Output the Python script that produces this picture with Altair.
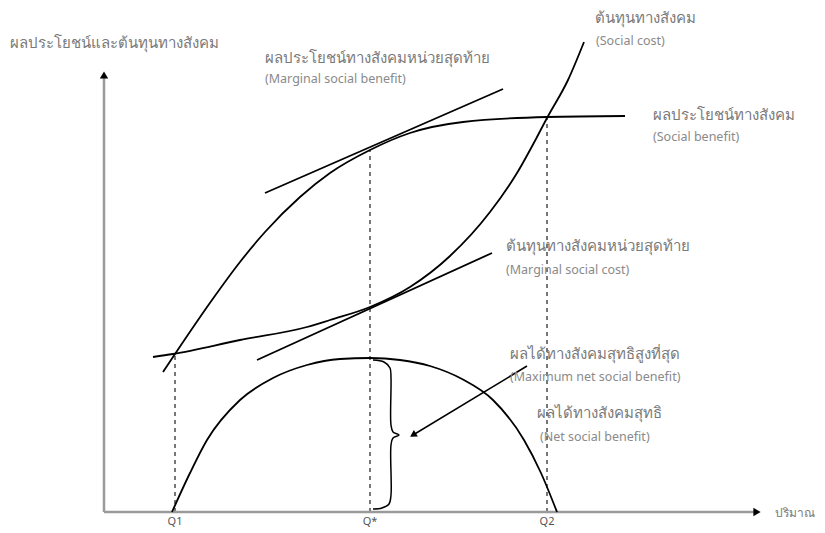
import altair as alt
import pandas as pd

# Quantity units (q) and value units (v) of the diagram
sb_q = [59, 71, 108, 136, 161, 196, 226, 266, 306, 359, 443, 521]
sb_v = [140, 158, 212, 250, 280, 315, 339, 362, 379, 390, 395, 396]

sc_q = [49, 69, 136, 203, 226, 266, 306, 346, 386, 413, 433, 443, 464, 480]
sc_v = [155, 158, 172, 185, 192, 205, 225, 256, 300, 339, 375, 394, 432, 470]

nsb_q = [68, 86, 103, 136, 169, 203, 236, 266, 296, 326, 358, 389, 420, 437, 453]
nsb_v = [0, 39, 72, 112, 134, 147, 153, 154, 152, 146, 133, 112, 72, 39, 0]

msb_q = [161, 399]
msb_v = [319, 423]
msc_q = [153, 388]
msc_v = [152, 259]

brace_q = [269, 280, 286, 287, 287, 289, 295, 289, 287, 287, 285, 278, 269]
brace_v = [152, 150, 144, 134, 87, 80, 77, 74, 67, 17, 8, 4, 3]

q_ticks = ["Q1", "Q*", "Q2"]
q_tick_pos = [71, 266, 443]
q_tick_top = [158, 362, 395]

arrow_q = [423, 309]
arrow_v = [146, 77]

th_labels = [
    "ผลประโยชน์ทางสังคมหน่วยสุดท้าย",
    "ต้นทุนทางสังคม",
    "ผลประโยชน์ทางสังคม",
    "ต้นทุนทางสังคมหน่วยสุดท้าย",
    "ผลได้ทางสังคมสุทธิสูงที่สุด",
    "ผลได้ทางสังคมสุทธิ",
]
en_labels = [
    "(Marginal social benefit)",
    "(Social cost)",
    "(Social benefit)",
    "(Marginal social cost)",
    "(Maximum net social benefit)",
    "(Net social benefit)",
]
th_q = [161, 491, 549, 402, 406, 433]
th_v = [454, 494, 397, 266, 158, 99]
en_q = [161, 492, 549, 402, 406, 436]
en_v = [433, 471, 375, 242, 135, 75]

y_title = "ผลประโยชน์และต้นทุนทางสังคม"
x_title = "ปริมาณ"

XD = [-96, 713]
YD = [-13, 498]
xs = alt.Scale(domain=XD, nice=False, zero=False)
ys = alt.Scale(domain=YD, nice=False, zero=False)
X = lambda f="q": alt.X(f"{f}:Q", scale=xs, axis=None)
Y = lambda f="v": alt.Y(f"{f}:Q", scale=ys, axis=None)

FONT = "Noto Sans"

def curve(qs, vs, name):
    return pd.DataFrame({"q": qs, "v": vs, "i": range(len(qs)), "name": name})

curves = pd.concat([
    curve(sb_q, sb_v, "sb"), curve(sc_q, sc_v, "sc"), curve(nsb_q, nsb_v, "nsb"),
])
lines = pd.concat([curve(msb_q, msb_v, "msb"), curve(msc_q, msc_v, "msc")])
brace = curve(brace_q, brace_v, "brace")

axes_df = pd.DataFrame({"q": [0, 0], "v": [0, 0], "q2": [0, 653], "v2": [437, 0]})
heads = pd.DataFrame({"q": [0, 653], "v": [437, 0], "shape": ["triangle-up", "triangle-right"]})

dash_df = pd.DataFrame({"q": q_tick_pos, "v": [0] * 3, "v2": q_tick_top})
tick_df = pd.DataFrame({"q": q_tick_pos, "v": [-10] * 3, "t": q_ticks})

axis_rules = alt.Chart(axes_df).mark_rule(color="#9a9a9a", strokeWidth=2.5).encode(
    x=X(), y=Y(), x2="q2:Q", y2="v2:Q")
axis_heads = alt.Chart(heads).mark_point(filled=True, color="black", size=70, opacity=1).encode(
    x=X(), y=Y(), shape=alt.Shape("shape:N", scale=None))

dashes = alt.Chart(dash_df).mark_rule(color="#777777", strokeWidth=2, strokeDash=[4, 4]).encode(
    x=X(), y=Y(), y2="v2:Q")

curve_layer = alt.Chart(curves).mark_line(color="black", strokeWidth=1.8, interpolate="monotone").encode(
    x=X(), y=Y(), detail="name:N", order="i:Q")
line_layer = alt.Chart(lines).mark_line(color="black", strokeWidth=1.8).encode(
    x=X(), y=Y(), detail="name:N", order="i:Q")
brace_layer = alt.Chart(brace).mark_line(color="black", strokeWidth=1.5, interpolate="catmull-rom").encode(
    x=X(), y=Y(), order="i:Q")

arrow_df = pd.DataFrame({"q": arrow_q, "v": arrow_v, "i": [0, 1]})
arrow_line = alt.Chart(arrow_df).mark_line(color="black", strokeWidth=1.5).encode(
    x=X(), y=Y(), order="i:Q")
arrow_head = alt.Chart(arrow_df.iloc[[1]]).mark_point(
    shape="triangle-up", filled=True, color="black", size=60, angle=239, opacity=1).encode(x=X(), y=Y())

ticks = alt.Chart(tick_df).mark_text(font=FONT, fontSize=11, color="#555555", baseline="middle").encode(
    x=X(), y=Y(), text="t:N")

th_df = pd.DataFrame({"q": th_q, "v": th_v, "t": th_labels})
en_df = pd.DataFrame({"q": en_q, "v": en_v, "t": en_labels})
th_text = alt.Chart(th_df).mark_text(font=FONT, fontSize=15, color="#7a7a7a", align="left",
                                     baseline="middle").encode(x=X(), y=Y(), text="t:N")
en_text = alt.Chart(en_df).mark_text(font=FONT, fontSize=12.5, color="#8a8a8a", align="left",
                                     baseline="middle").encode(x=X(), y=Y(), text="t:N")

ytitle = alt.Chart(pd.DataFrame({"q": [-94], "v": [469], "t": [y_title]})).mark_text(
    font=FONT, fontSize=15, color="#7a7a7a", align="left", baseline="middle").encode(x=X(), y=Y(), text="t:N")
xtitle = alt.Chart(pd.DataFrame({"q": [671], "v": [-1], "t": [x_title]})).mark_text(
    font=FONT, fontSize=12, color="#7a7a7a", align="left", baseline="middle").encode(x=X(), y=Y(), text="t:N")

chart = alt.layer(
    dashes, axis_rules, axis_heads, curve_layer, line_layer, brace_layer,
    arrow_line, arrow_head, ticks, th_text, en_text, ytitle, xtitle,
).properties(
    width=809, height=511, autosize="none",
    padding={"left": 0, "top": 6, "right": 0, "bottom": 5},
).configure_view(stroke=None)

chart.save("out.html", embed_options={"renderer": "svg", "actions": False})
